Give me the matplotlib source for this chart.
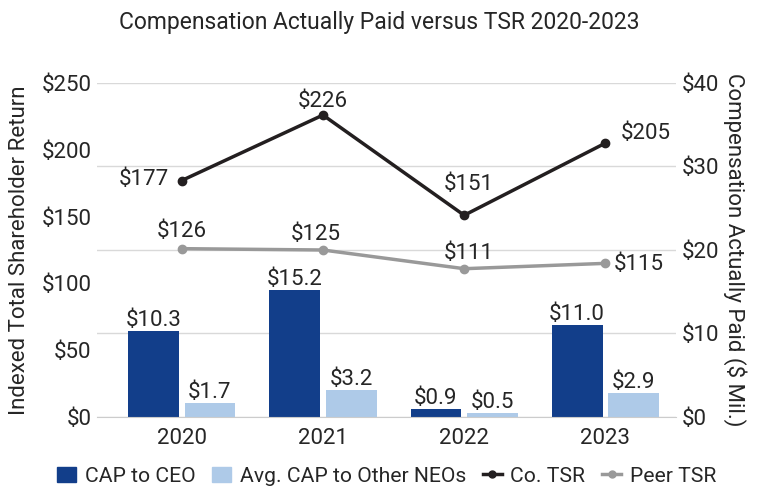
import matplotlib
matplotlib.use("Agg")
import matplotlib.pyplot as plt
import numpy as np
from matplotlib.lines import Line2D
from matplotlib.patches import Patch

plt.rcParams["font.family"] = ["Roboto", "DejaVu Sans"]
plt.rcParams["text.color"] = "#262626"

years = ["2020", "2021", "2022", "2023"]
cap_ceo = [10.3, 15.2, 0.9, 11.0]
cap_neo = [1.7, 3.2, 0.5, 2.9]
co_tsr = [177, 226, 151, 205]
peer_tsr = [126, 125, 111, 115]

ceo_color = "#123e8a"
neo_color = "#aecae8"
co_color = "#231f20"
peer_color = "#999999"
txt = "#262626"
fs = 16

fig = plt.figure(figsize=(7.58, 4.92), dpi=100)
ax = fig.add_axes([97 / 758, 1 - 417 / 492, (676 - 97) / 758, (417 - 83) / 492])
ax2 = ax.twinx()

x = np.arange(len(years))
w = 0.36

# bars on the right ($ Mil.) axis
ax2.bar(x - 0.2, cap_ceo, w, color=ceo_color, zorder=3)
ax2.bar(x + 0.2, cap_neo, w, color=neo_color, zorder=3)
for xi, v in zip(x, cap_ceo):
    ax2.annotate(f"${v:.1f}", (xi - 0.2, v), xytext=(0, 0), textcoords="offset points",
                 ha="center", va="bottom", fontsize=fs)
for xi, v in zip(x, cap_neo):
    ax2.annotate(f"${v:.1f}", (xi + 0.2, v), xytext=(0, 0), textcoords="offset points",
                 ha="center", va="bottom", fontsize=fs)
ax2.set_ylim(0, 40)
ax2.set_yticks([0, 10, 20, 30, 40])
ax2.set_yticklabels([f"${t}" for t in [0, 10, 20, 30, 40]])
ax2.grid(axis="y", color="#d9d9d9", linewidth=1, zorder=0)
ax2.set_axisbelow(True)
ax2.set_ylabel("Compensation Actually Paid ($ Mil.)", fontsize=fs, rotation=270,
               labelpad=20, color=txt)

# TSR lines on the left axis, drawn above bars
ax.set_zorder(ax2.get_zorder() + 1)
ax.patch.set_visible(False)
ax.plot(x, co_tsr, color=co_color, lw=2.5, marker="o", ms=6, zorder=4)
ax.plot(x, peer_tsr, color=peer_color, lw=2.5, marker="o", ms=6, zorder=4)

co_pos = [((-9, 1), "right"), ((0, 10), "center"), ((3, 22), "center"), ((11, 7), "left")]
peer_pos = [((0, 12), "center"), ((-5, 11), "center"), ((3, 11), "center"), ((6, -1), "left")]
for xi, v, (off, ha) in zip(x, co_tsr, co_pos):
    ax.annotate(f"${v}", (xi, v), xytext=off, textcoords="offset points",
                ha=ha, va="center", fontsize=fs)
for xi, v, (off, ha) in zip(x, peer_tsr, peer_pos):
    ax.annotate(f"${v}", (xi, v), xytext=off, textcoords="offset points",
                ha=ha, va="center", fontsize=fs)

ax.set_ylim(0, 250)
ax.set_yticks([0, 50, 100, 150, 200, 250])
ax.set_yticklabels([f"${t}" for t in [0, 50, 100, 150, 200, 250]])
ax.set_xlim(-0.6, 3.5)
ax.set_xticks(x)
ax.set_xticklabels(years)
ax.set_ylabel("Indexed Total Shareholder Return", fontsize=fs, color=txt, labelpad=8)

for a in (ax, ax2):
    for s in a.spines.values():
        s.set_visible(False)
    a.tick_params(length=0, labelsize=fs, colors=txt, pad=4)
ax.spines["bottom"].set_visible(True)
ax.spines["bottom"].set_color("#cccccc")
ax.tick_params(axis="x", pad=8)

fig.suptitle("Compensation Actually Paid versus TSR 2020-2023", y=0.977, fontsize=16.5,
             color=txt)

handles = [
    Patch(color=ceo_color, label="CAP to CEO"),
    Patch(color=neo_color, label="Avg. CAP to Other NEOs"),
    Line2D([], [], color=co_color, lw=2.5, marker="o", ms=5, label="Co. TSR"),
    Line2D([], [], color=peer_color, lw=2.5, marker="o", ms=5, label="Peer TSR"),
]
fig.legend(handles=handles, loc="center", bbox_to_anchor=(0.51, 0.032), ncol=4,
           frameon=False, fontsize=15.2, handlelength=0.9, handletextpad=0.4,
           columnspacing=0.8, borderpad=0.1)

fig.savefig("out.png", dpi=100)
